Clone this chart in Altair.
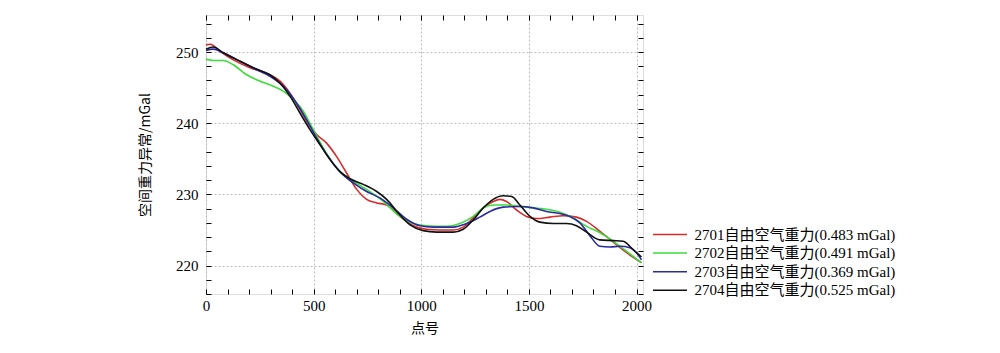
import altair as alt
import pandas as pd

names = [
    "2701自由空气重力(0.483 mGal)",
    "2702自由空气重力(0.491 mGal)",
    "2703自由空气重力(0.369 mGal)",
    "2704自由空气重力(0.525 mGal)",
]
colors = ["#d42b2b", "#3ddc3d", "#2b2b9e", "#111111"]

x_2701 = [0, 20, 65, 127, 204, 282, 344, 390, 437, 483, 514, 560, 607, 653, 700, 746, 793, 839, 901, 963,
          1025, 1087, 1149, 1195, 1241, 1288, 1334, 1365, 1396, 1443, 1489, 1536, 1598, 1659, 1721, 1768,
          1830, 1892, 1954, 2023]
y_2701 = [251.0, 251.1, 250.1, 248.9, 247.8, 247.0, 245.9, 244.2, 241.9, 239.6, 238.4, 237.2, 235.3, 233.0,
          230.7, 229.3, 228.8, 228.5, 226.9, 225.6, 225.1, 225.0, 225.0, 225.4, 226.7, 228.1, 229.0, 229.3,
          229.0, 227.8, 226.9, 226.6, 226.8, 227.0, 226.8, 226.2, 224.8, 223.3, 221.8, 220.4]

x_2702 = [0, 34, 80, 127, 189, 251, 313, 359, 406, 452, 498, 545, 607, 669, 746, 824, 901, 963, 1025, 1118,
          1180, 1241, 1288, 1334, 1396, 1458, 1520, 1582, 1644, 1706, 1768, 1830, 1892, 1954, 2023]
y_2702 = [249.0, 248.8, 248.8, 248.2, 246.8, 245.9, 245.2, 244.5, 243.3, 241.7, 239.1, 236.5, 233.7, 232.1,
          230.7, 229.0, 226.9, 225.9, 225.6, 225.5, 225.9, 226.9, 228.1, 228.5, 228.5, 228.3, 228.1, 227.9,
          227.5, 226.7, 225.5, 224.6, 223.4, 222.0, 220.4]

x_2703 = [0, 34, 80, 158, 235, 297, 359, 421, 467, 514, 560, 622, 684, 746, 808, 870, 932, 994, 1056, 1149,
          1211, 1272, 1319, 1381, 1458, 1520, 1582, 1644, 1690, 1737, 1783, 1830, 1876, 1923, 1969, 2000, 2023]
y_2703 = [250.2, 250.4, 249.9, 248.7, 247.5, 246.6, 245.2, 242.8, 240.5, 237.9, 235.6, 233.2, 231.6, 230.4,
          229.5, 228.1, 226.5, 225.6, 225.4, 225.4, 225.9, 226.8, 227.6, 228.2, 228.3, 228.1, 227.6, 227.3,
          226.9, 226.0, 224.2, 222.7, 222.6, 222.7, 222.5, 221.8, 220.8]

x_2704 = [0, 34, 80, 158, 235, 297, 344, 390, 437, 483, 529, 576, 622, 669, 731, 793, 839, 901, 948, 1009,
          1071, 1149, 1195, 1241, 1288, 1334, 1381, 1420, 1458, 1505, 1551, 1613, 1675, 1721, 1768, 1830,
          1892, 1938, 1985, 2023]
y_2704 = [250.4, 250.7, 249.9, 248.7, 247.6, 246.8, 245.6, 243.8, 241.4, 239.1, 237.0, 234.9, 233.2, 232.2,
          231.4, 230.4, 229.3, 227.1, 225.7, 224.9, 224.7, 224.7, 225.1, 226.4, 228.1, 229.3, 229.8, 229.7,
          228.5, 226.9, 226.1, 225.9, 225.9, 225.6, 224.7, 223.6, 223.5, 223.4, 222.2, 221.2]

x_major = [0, 500, 1000, 1500, 2000]
y_major = [220, 230, 240, 250]
x_ticks = list(range(0, 2001, 100))
y_ticks = list(range(216, 255, 2))

rows = []
for name, xs, ys in zip(names, [x_2701, x_2702, x_2703, x_2704], [y_2701, y_2702, y_2703, y_2704]):
    for i, (a, b) in enumerate(zip(xs, ys)):
        rows.append({"series": name, "x": a, "y": b, "order": i})
df = pd.DataFrame(rows)

FONT = "Liberation Serif, Noto Sans CJK SC"
CJK = "Noto Sans CJK SC"

xscale = alt.Scale(domain=[0, 2030], nice=False, zero=False)
yscale = alt.Scale(domain=[216.0, 255.2], nice=False, zero=False)

x_bottom = alt.Axis(
    orient="bottom", values=x_ticks, tickSize=5, offset=-5, domain=False, tickColor="black", format="d",
    labelExpr="datum.value % 500 === 0 ? datum.label : ''", labelFont=FONT, labelFontSize=15,
    labelColor="black", labelPadding=4, labelFlush=False, labelOverlap=False,
    grid=True, gridDash=[2, 2], gridColor="#bbbbbb",
    gridOpacity=alt.condition("datum.value % 500 === 0", alt.value(1), alt.value(0)),
    title="点号", titleFont=CJK, titleFontSize=14, titleFontWeight="normal", titleColor="black",
    titlePadding=8,
)
y_left = alt.Axis(
    orient="left", values=y_ticks, tickSize=5, offset=-5, domain=False, tickColor="black", format="d",
    labelExpr="datum.value % 10 === 0 ? datum.label : ''", labelFont=FONT, labelFontSize=15,
    labelColor="black", labelPadding=8, labelOverlap=False,
    grid=True, gridDash=[2, 2], gridColor="#bbbbbb",
    gridOpacity=alt.condition("datum.value % 10 === 0", alt.value(1), alt.value(0)),
    title="空间重力异常/mGal", titleFont=CJK, titleFontSize=14, titleFontWeight="normal",
    titleColor="black", titlePadding=23,
)
x_top = alt.Axis(orient="top", values=x_ticks, tickSize=5, offset=-5, domain=False, tickColor="black",
                 labels=False, grid=False, title=None)
y_right = alt.Axis(orient="right", values=y_ticks, tickSize=5, offset=-5, domain=False, tickColor="black",
                   labels=False, grid=False, title=None)

color = alt.Color(
    "series:N",
    scale=alt.Scale(domain=names, range=colors),
    legend=alt.Legend(
        title=None, orient="none", legendX=454.5, legendY=210, symbolType="M-2,0H2",
        symbolSize=289, symbolStrokeWidth=1.5, symbolFillColor="transparent",
        labelFont=FONT, labelFontSize=15, labelColor="black",
        labelLimit=400, rowPadding=0.6, labelOffset=15,
    ),
)

lines = alt.Chart(df).mark_line(interpolate="monotone", strokeWidth=1.6).encode(
    x=alt.X("x:Q", scale=xscale, axis=x_bottom),
    y=alt.Y("y:Q", scale=yscale, axis=y_left),
    color=color,
    order="order:Q",
    detail="series:N",
)

frame = alt.Chart(df).mark_point(opacity=0).encode(
    x=alt.X("x:Q", scale=xscale, axis=x_top),
    y=alt.Y("y:Q", scale=yscale, axis=y_right),
)

chart = alt.layer(lines, frame).resolve_axis(x="independent", y="independent").properties(
    width=437, height=279,
    autosize=alt.AutoSizeParams(type="none"),
    padding={"left": 206, "top": 15, "right": 357, "bottom": 59},
).configure_view(stroke="black", strokeWidth=1.2).configure(background="white")

chart.save("out.html", embed_options={"renderer": "svg", "actions": False})
